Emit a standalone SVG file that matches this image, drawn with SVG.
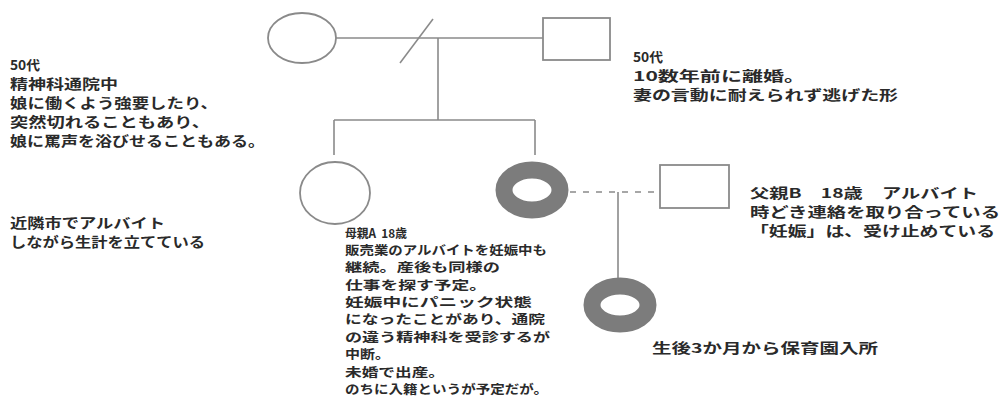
<svg xmlns="http://www.w3.org/2000/svg" width="1005" height="397" viewBox="0 0 1005 397">
<style>
.ln{stroke:#8a8a8a;stroke-width:1.6;fill:none}
.sh{stroke:#8a8a8a;stroke-width:1.8;fill:#fff}
.ring{stroke:#7c7c7c;stroke-width:17;fill:#fff}
.t{font-family:"Noto Sans CJK JP","Noto Sans",sans-serif;font-size:13.5px;fill:#2a2a2a;font-weight:bold}
.m{font-size:12.5px}
</style>
<rect width="1005" height="397" fill="#fff"/>
<g id="connectors">
<line class="ln" x1="336" y1="38" x2="543" y2="38"/>
<line class="ln" x1="400" y1="63" x2="433" y2="19"/>
<line class="ln" x1="438" y1="38" x2="438" y2="120"/>
<line class="ln" x1="334" y1="120" x2="535" y2="120"/>
<line class="ln" x1="334" y1="120" x2="334" y2="155"/>
<line class="ln" x1="535" y1="120" x2="535" y2="155"/>
<line class="ln" x1="570" y1="192" x2="660" y2="192" stroke-dasharray="6 7"/>
<line class="ln" x1="618" y1="192" x2="618" y2="280"/>
</g>
<g id="grandmother"><ellipse class="sh" cx="302" cy="38" rx="34" ry="25"/></g>
<g id="grandfather"><rect class="sh" x="543" y="18" width="67" height="42"/></g>
<g id="sister"><ellipse class="sh" cx="335" cy="193" rx="35" ry="31"/></g>
<g id="motherA"><ellipse class="ring" cx="532" cy="190" rx="28" ry="20"/></g>
<g id="fatherB"><rect class="sh" x="660" y="165" width="69" height="43"/></g>
<g id="child"><ellipse class="ring" cx="620" cy="305" rx="28" ry="19"/></g>
<g id="labels">
<text class="t" x="10" y="70" textLength="30" lengthAdjust="spacingAndGlyphs">50代</text>
<text class="t" x="10" y="89" textLength="108" lengthAdjust="spacingAndGlyphs">精神科通院中</text>
<text class="t" x="10" y="108" textLength="208" lengthAdjust="spacingAndGlyphs">娘に働くよう強要したり、</text>
<text class="t" x="10" y="127" textLength="200" lengthAdjust="spacingAndGlyphs">突然切れることもあり、</text>
<text class="t" x="10" y="146" textLength="255" lengthAdjust="spacingAndGlyphs">娘に罵声を浴びせることもある。</text>
<text class="t" x="10" y="228" textLength="155" lengthAdjust="spacingAndGlyphs">近隣市でアルバイト</text>
<text class="t" x="10" y="247" textLength="195" lengthAdjust="spacingAndGlyphs">しながら生計を立てている</text>
<text class="t" x="633" y="62" textLength="30" lengthAdjust="spacingAndGlyphs">50代</text>
<text class="t" x="633" y="81" textLength="172" lengthAdjust="spacingAndGlyphs">10数年前に離婚。</text>
<text class="t" x="633" y="100" textLength="265" lengthAdjust="spacingAndGlyphs">妻の言動に耐えられず逃げた形</text>
<text class="t" x="750" y="198" textLength="228" lengthAdjust="spacingAndGlyphs">父親B　18歳　アルバイト</text>
<text class="t" x="750" y="217" textLength="250" lengthAdjust="spacingAndGlyphs">時どき連絡を取り合っている</text>
<text class="t" x="750" y="236" textLength="245" lengthAdjust="spacingAndGlyphs">「妊娠」は、受け止めている</text>
<text class="t m" x="345" y="238" textLength="62" lengthAdjust="spacingAndGlyphs">母親A&#160;&#160;18歳</text>
<text class="t m" x="345" y="255" textLength="202" lengthAdjust="spacingAndGlyphs">販売業のアルバイトを妊娠中も</text>
<text class="t m" x="345" y="272" textLength="155" lengthAdjust="spacingAndGlyphs">継続。産後も同様の</text>
<text class="t m" x="345" y="290" textLength="142" lengthAdjust="spacingAndGlyphs">仕事を探す予定。</text>
<text class="t m" x="345" y="307" textLength="187" lengthAdjust="spacingAndGlyphs">妊娠中にパニック状態</text>
<text class="t m" x="345" y="324" textLength="200" lengthAdjust="spacingAndGlyphs">になったことがあり、通院</text>
<text class="t m" x="345" y="342" textLength="205" lengthAdjust="spacingAndGlyphs">の違う精神科を受診するが</text>
<text class="t m" x="345" y="359" textLength="45" lengthAdjust="spacingAndGlyphs">中断。</text>
<text class="t m" x="345" y="377" textLength="100" lengthAdjust="spacingAndGlyphs">未婚で出産。</text>
<text class="t m" x="345" y="394" textLength="203" lengthAdjust="spacingAndGlyphs">のちに入籍というが予定だが。</text>
<text class="t" x="652" y="353" textLength="226" lengthAdjust="spacingAndGlyphs">生後3か月から保育園入所</text>
</g>
</svg>
